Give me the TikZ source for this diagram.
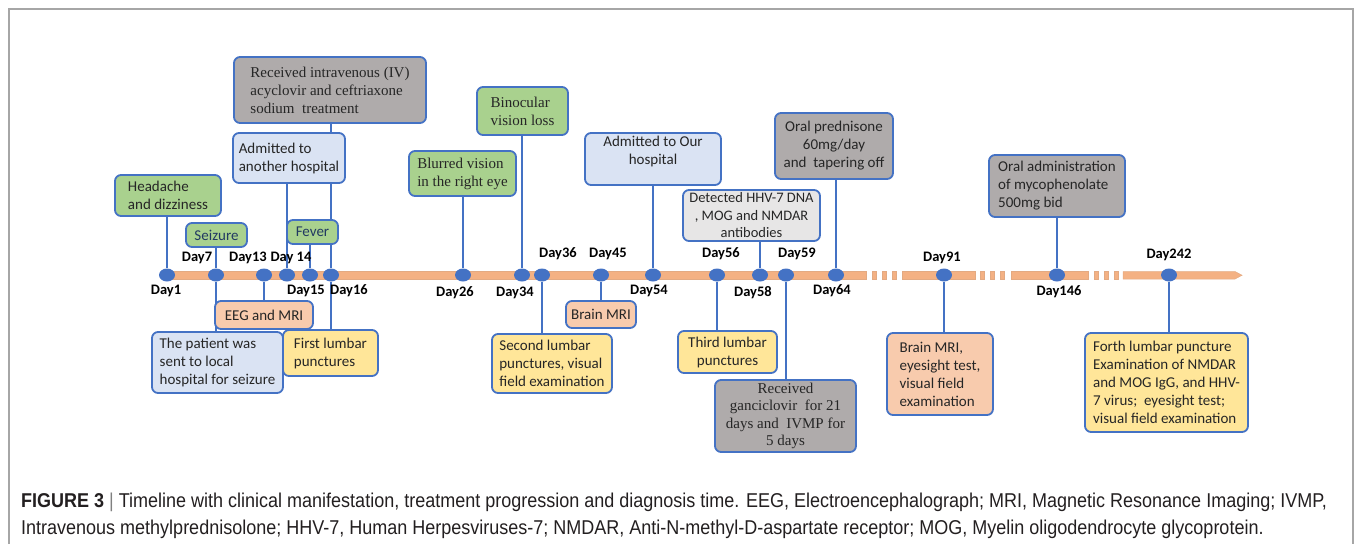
\documentclass[tikz,border=0pt]{standalone}
\usepackage{fontspec}
\setmainfont{Carlito}
\newfontfamily\tnr{Liberation Serif}
\newfontfamily\capfont[FakeStretch=0.90]{Liberation Sans}
\usetikzlibrary{shapes.geometric}
\definecolor{evblue}{HTML}{4472C4}
\definecolor{evgreen}{HTML}{A9D18E}
\definecolor{evsalmon}{HTML}{F8CBAD}
\definecolor{evlblue}{HTML}{DAE3F3}
\definecolor{evyellow}{HTML}{FFE699}
\definecolor{evgray}{HTML}{AFABAB}
\definecolor{evlgray}{HTML}{E7E6E6}
\definecolor{barorange}{HTML}{F4B183}
\definecolor{framegray}{HTML}{A6A6A6}
\definecolor{captext}{HTML}{231F20}
\pgfdeclarelayer{back}
\pgfsetlayers{back,main}

\begin{document}
\begin{tikzpicture}[x=1pt,y=-1pt,
    ev/.style={draw=evblue,line width=1.8pt,rounded corners=6pt,inner sep=2pt,
      font=\fontsize{15}{18}\selectfont,text=black!85},
    sym/.style={ev,fill=evgreen},
    hosp/.style={ev,fill=evlblue},
    img/.style={ev,fill=evsalmon},
    lp/.style={ev,fill=evyellow},
    rx/.style={ev,fill=evgray},
    lab/.style={ev,fill=evlgray},
    dot/.style={ellipse,fill=evblue,minimum width=16pt,minimum height=13pt,inner sep=0pt},
    day/.style={font=\fontsize{14.5}{16}\selectfont\bfseries,inner sep=0pt},
    link/.style={evblue,line width=2pt}]
  \useasboundingbox (0,0) rectangle (1355,544);
  % frame
  \draw[framegray,line width=1.5pt] (9,544) -- (9,9) -- (1353,9) -- (1353,544);

  % timeline bar
  \tikzset{barpart/.style={fill=barorange,draw=barorange!85!gray,line width=0.5pt}}
  \draw[barpart] (165,271.5) rectangle (866,279);
  \draw[barpart] (902,271.5) rectangle (975,279);
  \draw[barpart] (1011,271.5) rectangle (1088,279);
  \draw[barpart] (1123,271.5) -- (1235,271.5) -- (1242,275.25) -- (1235,279) -- (1123,279) -- cycle;
  \foreach \a in {872,882,892,980,990,1000,1094,1104,1114}
    \draw[barpart] (\a,271.5) rectangle (\a+4,279);

  % days
  \foreach \n/\x in {1/167,7/216,13/264,14/287,15/310,16/331,26/463,34/522,36/542,45/601,
      54/653,56/717,58/760,59/786,64/836,91/944,146/1057,242/1169}
    \node[dot] (d\n) at (\x,275) {};
  \foreach \n/\t/\x/\y in {1/Day1/166/291,7/Day7/197/258,13/Day13/248/258,14/Day 14/291/258,
      15/Day15/306/291,16/Day16/349/291,26/Day26/455/293,34/Day34/515/293,36/Day36/558/254,
      45/Day45/608/254,54/Day54/649/291,56/Day56/721/254,58/Day58/753/293,59/Day59/797/254,
      64/Day64/832/291,91/Day91/942/258,146/Day146/1059/292,242/Day242/1169/255}
    \node[day] (l\n) at (\x,\y) {\t};

  % events above the line
  \node[sym,minimum width=106pt,minimum height=41pt,align=left] (hd) at (168,195.5)
    {Headache\\and dizziness};
  \node[sym,minimum width=61pt,minimum height=24pt,text=evblue!50!black] (seiz) at (216.5,235) {Seizure};
  \node[sym,minimum width=51pt,minimum height=24pt,text=evblue!50!black] (fev) at (312.5,232) {Fever};
  \node[hosp,minimum width=112pt,minimum height=50pt,align=left] (adm1) at (289,158)
    {Admitted to\\another hospital};
  \node[rx,minimum width=192pt,minimum height=66pt,align=left,font=\fontsize{15}{18}\selectfont\tnr] (recv) at (330,90)
    {Received intravenous (IV)\\acyclovir and ceftriaxone\\sodium\ \ treatment};
  \node[sym,minimum width=107pt,minimum height=45pt,align=left,font=\fontsize{15}{18}\selectfont\tnr] (blur) at (462.5,173.5)
    {Blurred vision\\in the right eye};
  \node[sym,minimum width=91pt,minimum height=48pt,align=left,font=\fontsize{15}{18}\selectfont\tnr] (bino) at (522.5,111)
    {Binocular\\vision loss};
  \node[hosp,minimum width=136pt,minimum height=52pt,align=center] (adm2) at (653,159)
    {Admitted to Our\\hospital\\ \mbox{}};
  \node[lab,minimum width=137pt,minimum height=51pt,align=center,inner sep=0pt,font=\fontsize{14.5}{17.5}\selectfont] (det) at (751.5,215.5)
    {Detected HHV-7 DNA\\, MOG and NMDAR\\antibodies};
  \node[rx,minimum width=118pt,minimum height=66pt,align=center] (pred) at (834,146)
    {Oral prednisone\\60mg/day\\and\ \ tapering off};
  \node[rx,minimum width=136pt,minimum height=62pt,align=left] (myco) at (1057,186)
    {Oral administration\\of mycophenolate\\500mg bid};

  % events below the line
  \node[img,minimum width=98pt,minimum height=28pt] (eeg) at (264,315) {EEG and MRI};
  \node[hosp,minimum width=131pt,minimum height=61pt,align=left] (sent) at (217.5,362.5)
    {The patient was\\sent to local\\hospital for seizure};
  \node[lp,minimum width=95pt,minimum height=46pt,align=left] (lp1) at (330.5,353)
    {First lumbar\\punctures};
  \node[img,minimum width=70pt,minimum height=27pt] (mri1) at (601,314.5) {Brain MRI};
  \node[lp,minimum width=120pt,minimum height=59pt,align=left] (lp2) at (552,363.5)
    {Second lumbar\\punctures, visual\\field examination};
  \node[lp,minimum width=99pt,minimum height=42pt,align=center] (lp3) at (727.5,352)
    {Third lumbar\\punctures};
  \node[rx,minimum width=141pt,minimum height=72pt,align=center,inner sep=0pt,font=\fontsize{15}{17.5}\selectfont\tnr] (ganc) at (785.5,416)
    {Received\\ganciclovir\ \ for 21\\days and\ \ IVMP for\\5 days};
  \node[img,minimum width=106pt,minimum height=82pt,align=left] (mri2) at (940,374)
    {Brain MRI,\\eyesight test,\\visual field\\examination};
  \node[lp,minimum width=163pt,minimum height=99pt,align=left] (lp4) at (1166.5,382.5)
    {Forth lumbar puncture\\Examination of NMDAR\\and MOG IgG, and HHV-\\7 virus;\ \ eyesight test;\\visual field examination};

  % connectors
  \begin{pgfonlayer}{back}
    \draw[link] (hd.south -| d1) -- (d1);
    \draw[link] (seiz.south -| d7) -- (d7) -- (sent.north -| d7);
    \draw[link] (d13) -- (eeg.north -| d13);
    \draw[link] (adm1.south -| d14) -- (d14);
    \draw[link] (fev.south -| d15) -- (d15);
    \draw[link] (recv.south -| d16) -- (d16) -- (lp1.north -| d16);
    \draw[link] (blur.south -| d26) -- (d26);
    \draw[link] (bino.south -| d34) -- (d34);
    \draw[link] (d36) -- (lp2.north -| d36);
    \draw[link] (d45) -- (mri1.north -| d45);
    \draw[link] (adm2.south -| d54) -- (d54);
    \draw[link] (d56) -- (lp3.north -| d56);
    \draw[link] (det.south -| d58) -- (d58);
    \draw[link] (d59) -- (ganc.north -| d59);
    \draw[link] (pred.south -| d64) -- (d64);
    \draw[link] (d91) -- (mri2.north -| d91);
    \draw[link] (myco.south -| d146) -- (d146);
    \draw[link] (d242) -- (lp4.north -| d242);
  \end{pgfonlayer}

  % caption
  \node[anchor=west,align=left,inner sep=0pt,text=captext,
    font=\fontsize{20}{26.5}\selectfont\capfont] (cap) at (21,516)
    {\textbf{FIGURE 3} {\color{gray}|} Timeline with clinical manifestation, treatment progression and diagnosis time. EEG, Electroencephalograph; MRI, Magnetic Resonance Imaging; IVMP,\\
     Intravenous methylprednisolone; HHV-7, Human Herpesviruses-7; NMDAR, Anti-N-methyl-D-aspartate receptor; MOG, Myelin oligodendrocyte glycoprotein.};
\end{tikzpicture}
\end{document}
